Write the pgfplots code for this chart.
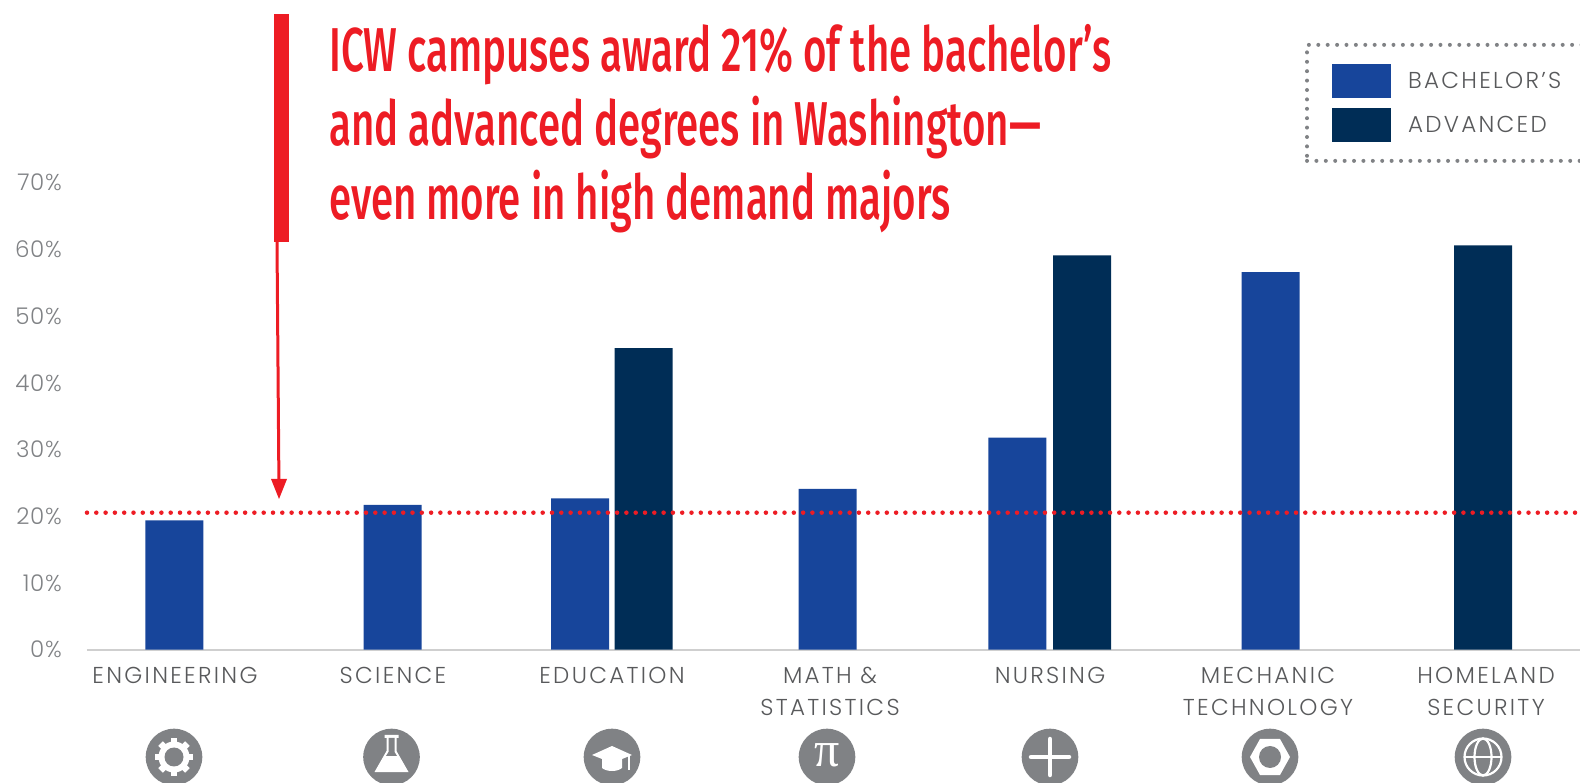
\documentclass[border=0pt]{standalone}
\usepackage{fontspec}
\usepackage{pgfplots}
\pgfplotsset{compat=1.18}
\setmainfont{Poppins}
\newfontfamily\titlefont[FakeStretch=0.649]{Fira Sans Medium}
\newfontfamily\lblfont[LetterSpace=10]{Poppins Light}
\newfontfamily\ylblfont[LetterSpace=3]{Poppins Light}
\newfontfamily\pifont{Liberation Serif}
\definecolor{bach}{HTML}{17459B}
\definecolor{adv}{HTML}{002D56}
\definecolor{redc}{HTML}{ED1C24}
\definecolor{icon}{HTML}{808285}
\definecolor{lbl}{HTML}{58595B}
\definecolor{ylbl}{HTML}{808285}
\pgfplotstableread{
x y
174.3 19.4
392.5 21.7
580 22.7
827.5 24.1
1017.4 31.8
1270.5 56.6
}\bachelor
\pgfplotstableread{
x y
643.5 45.2
1082 59.1
1483 60.6
}\advanced
\begin{document}
\begin{tikzpicture}[x=1pt,y=1pt]
\path[use as bounding box] (0,0) rectangle (1580,782);
\clip (0,0) rectangle (1580,782);
\begin{axis}[
  at={(87pt,132.3pt)}, anchor=south west,
  scale only axis, width=1493pt, height=467pt,
  xmin=87, xmax=1580, ymin=0, ymax=70,
  axis x line*=bottom, axis y line*=left,
  x axis line style={draw=black!19, line width=2pt},
  y axis line style={draw=none},
  major tick length=0pt,
  ytick={0,10,...,70},
  yticklabels={0\%,10\%,20\%,30\%,40\%,50\%,60\%,70\%},
  yticklabel style={font=\ylblfont\fontsize{23}{27}\selectfont, text=ylbl, inner sep=0pt, xshift=-25pt},
  xtick={175,393,612,830,1050,1268,1486},
  xticklabels={ENGINEERING,SCIENCE,EDUCATION,{MATH \&\\STATISTICS},NURSING,{MECHANIC\\TECHNOLOGY},{HOMELAND\\SECURITY}},
  xticklabel style={font=\lblfont\fontsize{23}{32}\selectfont, text=lbl, align=center, anchor=north, inner sep=0pt, yshift=-17pt},
  legend style={at={(axis cs:1305,90.96)}, anchor=north west, draw=icon, line width=4pt,
    dash pattern=on 0pt off 9.4pt, line cap=round, inner xsep=25pt, inner ysep=19pt,
    row sep=10pt, font=\lblfont\fontsize{23}{25}\selectfont, text=lbl, fill=none},
  legend cell align=left,
  legend image code/.code={\fill[#1,solid] (0pt,-17pt) rectangle (59pt,17pt); \path (74pt,0pt);},
  clip=false,
]
\addplot[ybar, bar width=58pt, fill=bach, draw=none] table[x=x,y=y] {\bachelor};
\addlegendentry{BACHELOR’S}
\addplot[ybar, bar width=58pt, fill=adv, draw=none] table[x=x,y=y] {\advanced};
\addlegendentry{ADVANCED}
\addplot[forget plot, redc, line width=4.5pt, line cap=round, dash pattern=on 0pt off 9.3pt] coordinates {(87,20.54) (1580,20.54)};
\end{axis}
% annotation arrow
\fill[redc] (274,768) -- (289,768) -- (289,540) -- (274,540) -- cycle;
\draw[redc, line width=3pt] (277,540) -- (279,290);
\fill[redc] (279,283) -- (271,303) -- (287,303) -- cycle;
% headline
\begin{scope}[every node/.style={anchor=base west, inner sep=0pt, text=redc, font=\titlefont\fontsize{62}{70}\selectfont}]
\node at (329,710) {ICW campuses award 21\% of the bachelor’s};
\node at (329,636) {and advanced degrees in Washington—};
\node at (329,562) {even more in high demand majors};
\end{scope}
% icons
\foreach \cx in {174,391.5,612,827,1050,1270,1483} \fill[icon] (\cx,25) circle (28.3);
% gear
\begin{scope}[shift={(174,25)}]
\foreach \a in {0,45,...,315} \draw[white, line width=6.5pt, rotate=\a] (12,0) -- (19,0);
\fill[white] (0,0) circle (15.5);
\fill[icon] (0,0) circle (9.5);
\end{scope}
% flask
\begin{scope}[shift={(391.5,25)}]
\fill[white] (-7,22) -- (7,22) -- (7,19) -- (5,19) -- (5,6) -- (17,-15) -- (-17,-15) -- (-5,6) -- (-5,19) -- (-7,19) -- cycle;
\fill[icon] (-3,19) -- (3,19) -- (3,5) -- (5.5,1) -- (-5.5,1) -- (-3,5) -- cycle;
\end{scope}
% cap
\begin{scope}[shift={(612,25)}]
\fill[white] (-10,-1) -- (10,-1) -- (10,-11) .. controls (5,-15) and (-5,-15) .. (-10,-11) -- cycle;
\fill[white] (0,11) -- (20,2) -- (0,-6) -- (-20,2) -- cycle;
\draw[white, line width=1.2pt] (17,2) -- (17,-13);
\end{scope}
% pi
\node[text=white, font=\pifont\fontsize{50}{50}\selectfont, inner sep=0pt] at (827,27) {π};
% plus
\draw[white, line width=4.5pt, line cap=round] (1050,7) -- (1050,43) (1031,25) -- (1069,25);
% nut
\begin{scope}[shift={(1270,25)}]
\fill[white] (-20,0) -- (-10,18) -- (10,18) -- (20,0) -- (10,-18) -- (-10,-18) -- cycle;
\fill[icon] (0,0) circle (11);
\end{scope}
% globe
\begin{scope}[shift={(1483,25)}, white, line width=2.2pt]
\draw (0,0) circle (18.5);
\draw (0,0) ellipse (8.5 and 18.5);
\draw (-18.5,0) -- (18.5,0);
\end{scope}
\end{tikzpicture}
\end{document}
